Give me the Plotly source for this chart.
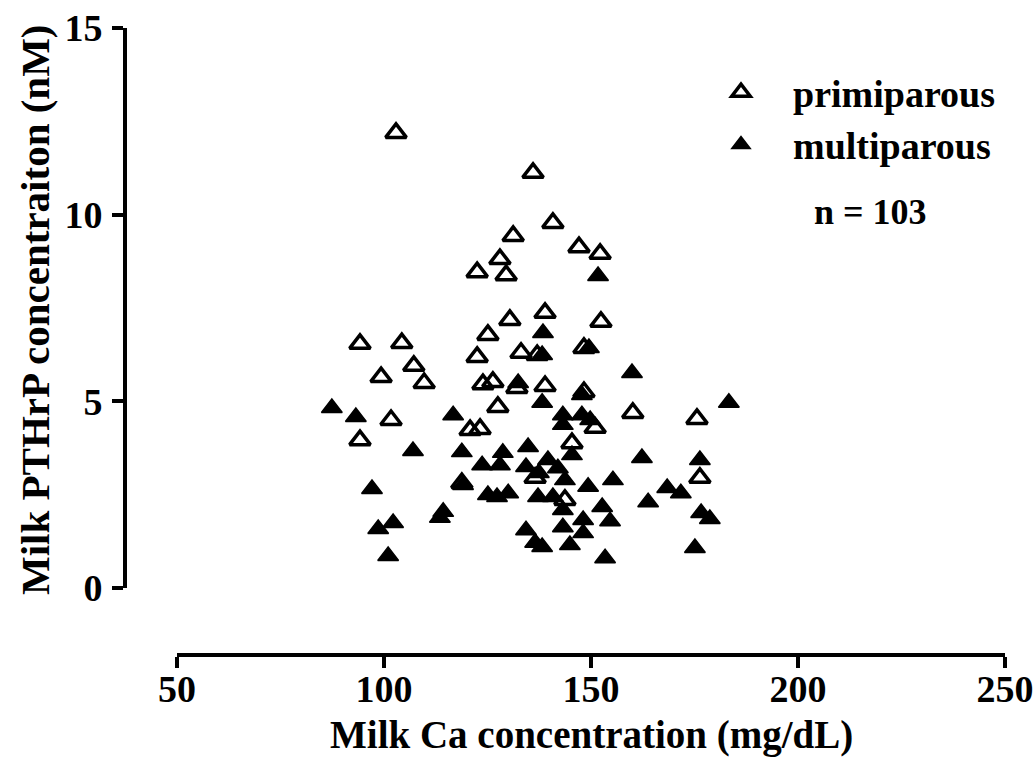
import plotly.graph_objects as go

# Milk calcium (mg/dL) and milk PTHrP (nM) per cow, split by parity
ca_primiparous = [102.9, 136.0, 140.8, 131.2, 147.1, 152.2, 128.0, 122.5, 129.5, 130.4,
                  138.9, 152.4, 125.1, 94.2, 104.3, 122.5, 133.1, 137.0, 148.3, 107.2,
                  99.3, 109.7, 123.9, 126.3, 138.9, 148.3, 127.5, 101.7, 94.2, 120.8,
                  123.2, 160.1, 175.6, 151.0, 145.4, 136.5, 143.7, 118.8, 176.3, 132.1]
pthrp_primiparous = [12.19, 11.12, 9.78, 9.43, 9.13, 8.95, 8.81, 8.46, 8.38, 7.18,
                     7.37, 7.13, 6.78, 6.54, 6.56, 6.19, 6.30, 6.24, 6.43, 5.95,
                     5.65, 5.49, 5.46, 5.52, 5.41, 5.25, 4.85, 4.50, 3.96, 4.23,
                     4.26, 4.69, 4.53, 4.29, 3.88, 2.95, 2.36, 2.81, 2.95, 5.36]

ca_multiparous = [87.4, 93.2, 107.0, 97.1, 98.6, 102.2, 101.0, 114.3, 113.5, 116.7,
                  118.8, 119.1, 123.7, 128.0, 128.7, 125.1, 127.3, 130.0, 134.8, 134.3,
                  137.4, 137.2, 134.3, 136.5, 138.2, 138.4, 138.2, 132.4, 138.2, 139.6,
                  142.0, 143.7, 140.8, 143.2, 145.4, 149.3, 155.3, 162.3, 152.7, 154.6,
                  148.1, 143.2, 148.1, 144.9, 153.4, 163.8, 149.5, 151.7, 159.9, 147.8,
                  143.2, 143.2, 147.8, 149.8, 183.3, 176.3, 168.4, 171.7, 176.6, 178.7,
                  175.1]
pthrp_multiparous = [4.82, 4.58, 3.67, 2.65, 1.58, 1.74, 0.86, 2.04, 1.88, 4.63,
                     3.64, 2.76, 3.29, 3.29, 3.62, 2.49, 2.44, 2.54, 3.78, 3.24,
                     3.08, 2.44, 1.55, 1.21, 1.10, 6.83, 6.24, 5.49, 4.96, 3.43,
                     3.21, 2.89, 2.44, 2.09, 3.56, 2.71, 2.89, 3.48, 2.17, 1.79,
                     1.82, 1.63, 1.47, 1.15, 0.80, 2.30, 6.43, 8.36, 5.76, 5.17,
                     4.63, 4.37, 4.63, 4.50, 4.96, 3.43, 2.68, 2.54, 2.01, 1.85,
                     1.07]

x_ticks = [50, 100, 150, 200, 250]
y_ticks = [0, 5, 10, 15]

FONT = "Liberation Serif"
INK = "black"

# page geometry (pixels)
W, H = 1036, 760
ML, MR, MT, MB = 125, 31, 28, 105
PW, PH = W - ML - MR, H - MT - MB
x_start = (177 - ML) / PW          # x axis begins to the right of the y axis
y_start = (H - MB - 588) / PH      # y axis stops above the x axis


def px_x(px):
    return (px - ML) / PW


def px_y(py):
    return (H - MB - py) / PH


fig = go.Figure()

fig.add_trace(go.Scatter(
    x=ca_primiparous, y=pthrp_primiparous, mode="markers", name="primiparous",
    cliponaxis=False,
    marker=dict(symbol="triangle-up-open", size=18, color=INK,
                line=dict(width=3.5, color=INK)),
))
fig.add_trace(go.Scatter(
    x=ca_multiparous, y=pthrp_multiparous, mode="markers", name="multiparous",
    cliponaxis=False,
    marker=dict(symbol="triangle-up", size=18, color=INK,
                line=dict(width=1.5, color=INK)),
))

axis_common = dict(
    showline=True, linecolor=INK, linewidth=4,
    ticks="outside", ticklen=11, tickwidth=4, tickcolor=INK,
    showgrid=False, zeroline=False, anchor="free", position=0,
    tickfont=dict(family=FONT, size=38, color=INK, weight="bold"),
    automargin=False,
)

fig.update_layout(
    width=W, height=H,
    margin=dict(l=ML, r=MR, t=MT, b=MB),
    paper_bgcolor="white", plot_bgcolor="white",
    xaxis=dict(domain=[x_start, 1], range=[50, 250], tickvals=x_ticks,
               ticklabelstandoff=-12, **axis_common),
    yaxis=dict(domain=[y_start, 1], range=[0, 15], tickvals=y_ticks,
               ticklabelstandoff=2, **axis_common),
    legend=dict(
        x=px_x(689), y=px_y(61), xanchor="left", yanchor="top",
        bgcolor="rgba(0,0,0,0)", itemwidth=94, tracegroupgap=0,
        font=dict(family=FONT, size=38, color=INK, weight="bold"),
    ),
    showlegend=True,
    annotations=[
        dict(text="Milk Ca concentration (mg/dL)", xref="paper", yref="paper",
             x=px_x(591), y=px_y(735), xanchor="center", yanchor="middle",
             showarrow=False, font=dict(family=FONT, size=39, color=INK, weight="bold")),
        dict(text="Milk PTHrP concentraiton (nM)", xref="paper", yref="paper",
             x=px_x(35), y=px_y(310), xanchor="center", yanchor="middle",
             textangle=-90, showarrow=False,
             font=dict(family=FONT, size=41, color=INK, weight="bold")),
        dict(text="n = 103", xref="paper", yref="paper",
             x=px_x(870), y=px_y(212), xanchor="center", yanchor="middle",
             showarrow=False, font=dict(family=FONT, size=36, color=INK, weight="bold")),
    ],
)

fig.write_html("out.html")
